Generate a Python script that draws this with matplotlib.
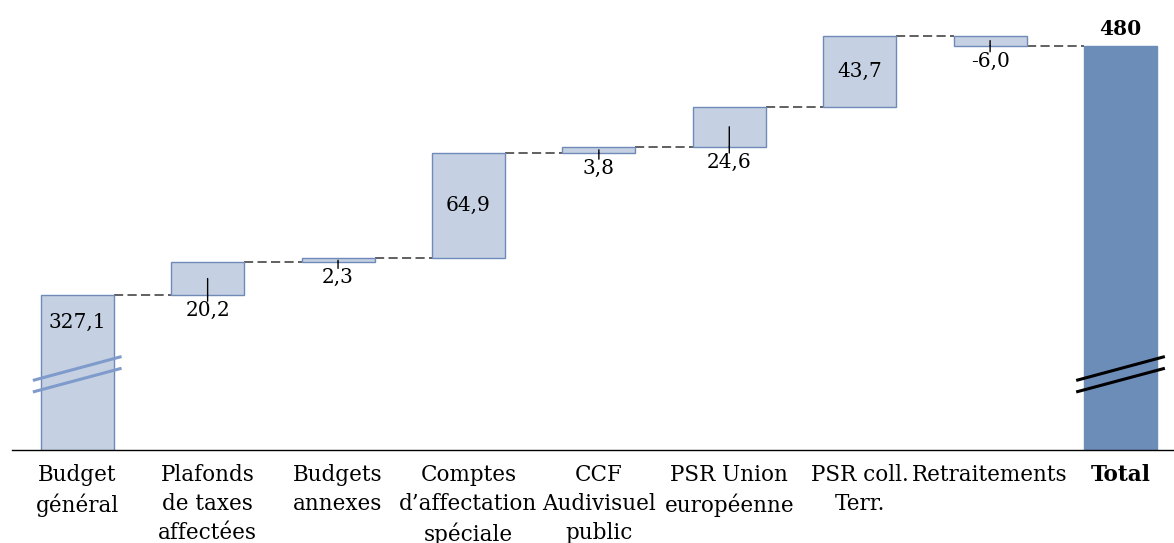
import matplotlib
matplotlib.use("Agg")
import matplotlib.pyplot as plt
import numpy as np

categories = ["Budget\ngénéral", "Plafonds\nde taxes\naffectées", "Budgets\nannexes",
              "Comptes\nd\u2019affectation\nspéciale", "CCF\nAudivisuel\npublic",
              "PSR Union\neuropéenne", "PSR coll.\nTerr.", "Retraitements", "Total"]
values = [327.1, 20.2, 2.3, 64.9, 3.8, 24.6, 43.7, -6.0]
value_labels = ["327,1", "20,2", "2,3", "64,9", "3,8", "24,6", "43,7", "-6,0"]
total_label = "480"
inside = [True, False, False, True, False, False, True, False]

plt.rcParams['font.family'] = ['DejaVu Serif']
LIGHT = "#c5d1e3"
EDGE = "#6f8ab8"
DARK = "#6d8db9"
YMIN, YMAX = 231.7, 508.6

fig = plt.figure(figsize=(11.74, 5.43), dpi=100)
ax = fig.add_axes([12 / 1174, 93 / 543, 1 - 12 / 1174, 450 / 543])
ax.set_xlim(-0.5, 8.41)
ax.set_ylim(YMIN, YMAX)

w = 0.56
cum = np.cumsum(values)
starts = np.concatenate([[0], cum[:-1]])
total = cum[-1]

for i, (v, s) in enumerate(zip(values, starts)):
    lo, hi = min(s, s + v), max(s, s + v)
    ax.bar(i, hi - lo, bottom=lo, width=w, color=LIGHT, edgecolor=EDGE, linewidth=1.0, zorder=2)
ax.bar(len(values), total, width=w, color=DARK, edgecolor=DARK, linewidth=1.0, zorder=2)

# connectors
for i, lv in enumerate(cum):
    ax.plot([i + w / 2, i + 1 - w / 2], [lv, lv], color="#454545", lw=1.2,
            dashes=(5.5, 2.6), zorder=1)

# labels
for i, (v, s, lab, ins) in enumerate(zip(values, starts, value_labels, inside)):
    lo, hi = min(s, s + v), max(s, s + v)
    if i == 0:
        ax.annotate(lab, (i, hi), xytext=(0, -20), textcoords="offset points",
                    ha="center", va="center", fontsize=14.5, zorder=4)
    elif ins:
        ax.text(i, (lo + hi) / 2, lab, ha="center", va="center", fontsize=14.5, zorder=4)
    else:
        mid = (lo + hi) / 2
        ax.annotate(lab, (i, lo), xytext=(0, -4.5), textcoords="offset points",
                    ha="center", va="top", fontsize=14.5, zorder=4)
        ax.annotate("", xy=(i, mid), xycoords="data",
                    xytext=(i, lo), textcoords="data",
                    arrowprops=dict(arrowstyle="-", color="black", lw=1.0,
                                    shrinkA=0, shrinkB=0), zorder=4)
        ax.annotate("", xy=(i, lo), xycoords="data",
                    xytext=(0, -4.5), textcoords="offset points",
                    arrowprops=dict(arrowstyle="-", color="black", lw=1.0,
                                    shrinkA=0, shrinkB=0), zorder=4)

ax.annotate(total_label, (len(values), total), xytext=(0, 5), textcoords="offset points",
            ha="center", va="bottom", fontsize=14.5, fontweight="bold")

# break marks
for xc, col in [(0, "#7f9bcb"), (len(values), "black")]:
    for y0, y1 in [(274.5, 289.2), (267.4, 282.0)]:
        ax.plot([xc - 0.34, xc + 0.34], [y0, y1], color=col, lw=2.2,
                solid_capstyle="butt", zorder=3, clip_on=False)

for sp in ["top", "right", "left"]:
    ax.spines[sp].set_visible(False)
ax.spines["bottom"].set_linewidth(1.0)
ax.set_yticks([])
ax.set_xticks(range(len(categories)))
ax.set_xticklabels(categories, fontsize=15.5, linespacing=1.42)
ax.get_xticklabels()[-1].set_fontweight("bold")
ax.tick_params(axis="x", length=0, pad=10)

fig.savefig("out.png", dpi=100)
